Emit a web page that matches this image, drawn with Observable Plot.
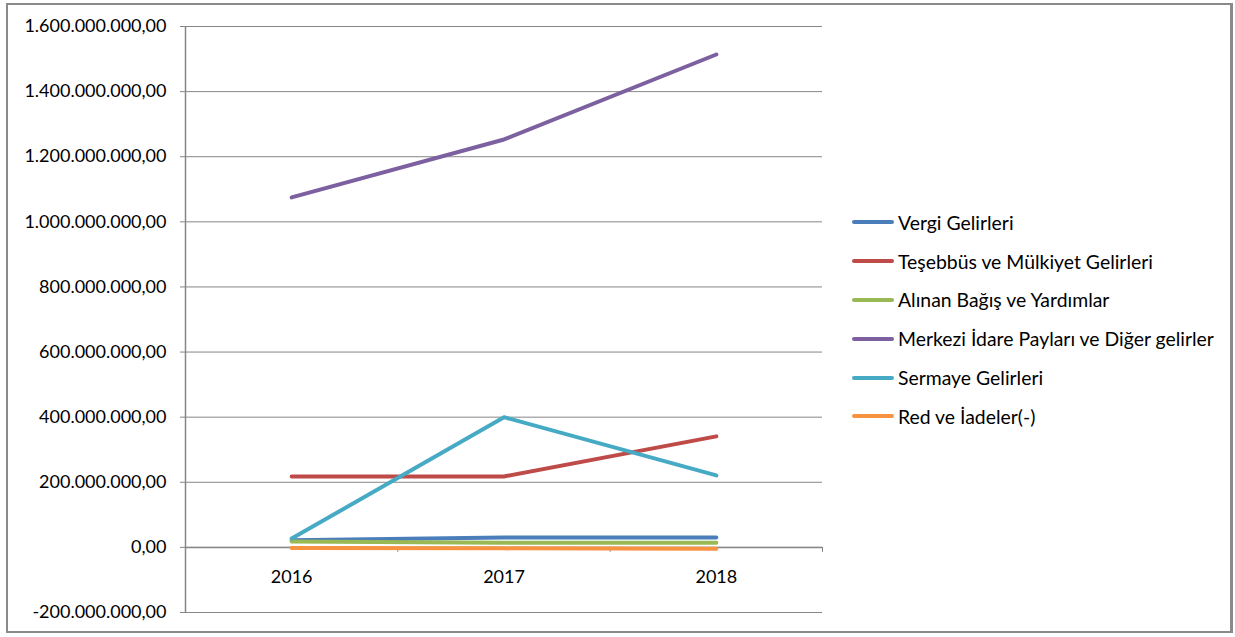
<!DOCTYPE html>
<html>
<head>
<meta charset="utf-8">
<script src="https://cdn.jsdelivr.net/npm/d3@7"></script>
<script src="https://cdn.jsdelivr.net/npm/@observablehq/plot@0.6"></script>
<style>
  html, body { margin: 0; padding: 0; background: #fff; }
  #wrap { position: relative; width: 1235px; height: 637px; font-family: Lato, "Open Sans", sans-serif; }
  #border { position: absolute; left: 6px; top: 3px; width: 1227px; height: 630px; box-sizing: border-box;
            border: 2px solid #8a8a8a; border-right-width: 3px; pointer-events: none; }
  #chart { position: absolute; left: 0; top: 0; }
  #legend { position: absolute; left: 852px; top: 203px; }
  .item { display: flex; align-items: center; height: 38.8px; font-size: 19.4px; color: #000; white-space: nowrap; }
  .sw { width: 42px; height: 4px; border-radius: 2px; margin-right: 4px; }
</style>
</head>
<body>
<div id="wrap">
  <div id="chart"></div>
  <div id="legend"></div>
  <div id="border"></div>
</div>
<script>
const years = [2016, 2017, 2018];
const seriesNames = [
  "Vergi Gelirleri",
  "Teşebbüs ve Mülkiyet Gelirleri",
  "Alınan Bağış ve Yardımlar",
  "Merkezi İdare Payları ve Diğer gelirler",
  "Sermaye Gelirleri",
  "Red ve İadeler(-)"
];
const vergi    = [22e6, 30e6, 30e6];
const tesebbus = [218e6, 218e6, 341e6];
const bagis    = [18e6, 14e6, 14e6];
const merkezi  = [1075e6, 1253e6, 1514e6];
const sermaye  = [27e6, 400e6, 221e6];
const red      = [-2e6, -3e6, -4e6];
const colors = ["#4A7EBB", "#BE4B48", "#98B954", "#7D60A0", "#46AAC5", "#F69240"];
const yTicks = d3.range(-200e6, 1600e6 + 1, 200e6);
const boundaries = [2016.5, 2017.5, 2018.5];

const values = [vergi, tesebbus, bagis, merkezi, sermaye, red];
const rows = seriesNames.flatMap((s, j) => years.map((yr, i) => ({year: yr, value: values[j][i], series: s})));

const fmt = d3.formatLocale({decimal: ",", thousands: ".", grouping: [3], currency: ["", ""], minus: "-"}).format(",.2f");

const W = 1235, H = 637, mL = 185, mR = 413, mT = 26, mB = 25;
const yDom = [-200e6, 1600e6];
const plotH = H - mT - mB;
const y0px = mT + plotH * (yDom[1] - 0) / (yDom[1] - yDom[0]);
const dyZero = y0px - (H - mB);
const grey = "#868686";

const chart = Plot.plot({
  width: W, height: H,
  marginLeft: mL, marginRight: mR, marginTop: mT, marginBottom: mB,
  x: {type: "linear", domain: [2015.5, 2018.5]},
  y: {domain: yDom},
  color: {domain: seriesNames, range: colors},
  style: {fontFamily: "Lato, 'Open Sans', sans-serif", fontSize: "18px", color: "#000", background: "transparent"},
  marks: [
    Plot.gridY(yTicks, {stroke: grey, strokeOpacity: 1, strokeWidth: 1}),
    Plot.axisY(yTicks, {tickFormat: fmt, tickSize: 5, tickPadding: 14, stroke: grey, fill: "#000", fontSize: 18, label: null}),
    Plot.ruleX([2015.5], {stroke: grey, strokeWidth: 1.5}),
    Plot.ruleY([0], {stroke: grey, strokeWidth: 1.5}),
    Plot.axisX(boundaries, {tickSize: 5, tickFormat: () => "", stroke: grey, dy: dyZero, label: null}),
    Plot.axisX(years, {tickSize: 0, tickPadding: 23, tickFormat: d => String(d), fill: "#000", fontSize: 18, dy: dyZero, label: null}),
    Plot.line(rows, {x: "year", y: "value", stroke: "series", z: "series", strokeWidth: 4, strokeLinecap: "round", strokeLinejoin: "round"})
  ]
});
document.getElementById("chart").appendChild(chart);

const legend = document.getElementById("legend");
seriesNames.forEach((s, i) => {
  const it = document.createElement("div");
  it.className = "item";
  const sw = document.createElement("div");
  sw.className = "sw";
  sw.style.background = colors[i];
  const t = document.createElement("span");
  t.textContent = s;
  it.appendChild(sw); it.appendChild(t);
  legend.appendChild(it);
});
</script>
</body>
</html>
